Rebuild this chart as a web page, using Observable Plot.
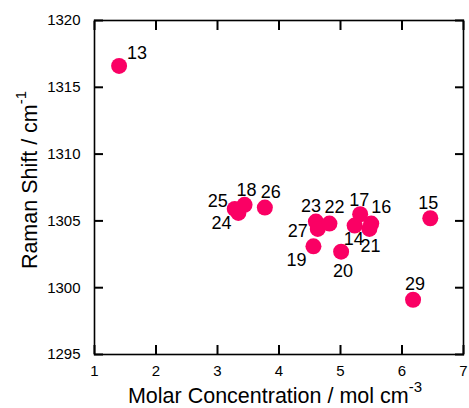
<!DOCTYPE html>
<html><head><meta charset="utf-8">
<script src="https://cdn.jsdelivr.net/npm/d3@7"></script>
<script src="https://cdn.jsdelivr.net/npm/@observablehq/plot@0.6"></script>
<style>
body{margin:0;background:#fff;}
svg{font-family:"Liberation Sans",Arial,sans-serif;}
</style></head><body>
<div id="chart"></div>
<script>
const ids   = ["13","25","24","18","26","23","27","22","19","20","14","17","16","21","15","29"];
const conc  = [1.40,3.28,3.34,3.44,3.77,4.60,4.63,4.82,4.56,5.01,5.23,5.32,5.50,5.47,6.46,6.18];
const shift = [1316.6,1305.9,1305.6,1306.2,1306.0,1304.95,1304.4,1304.8,1303.1,1302.7,1304.65,1305.5,1304.8,1304.4,1305.2,1299.1];
const labelDx = [18,-17,-17,2,6,-5,-20,5,-17,2,-1,-1,10,1,-2,2];
const labelDy = [-13,-8,10,-15,-15,-15,2,-16,14,20,14,-14,-16,17,-15,-15];
const xTicks = [1,2,3,4,5,6,7];
const yTicks = [1295,1300,1305,1310,1315,1320];
const data = ids.map((id,i)=>({id, x:conc[i], y:shift[i], dx:labelDx[i], dy:labelDy[i]}));
const color = "#fa0064";

const W = 469, H = 408, mL = 94, mR = 6, mT = 20, mB = 54;
const T = 9;
const fmt = d3.format("d");
const blank = () => "";
const plot = Plot.plot({
  width: W, height: H,
  marginLeft: mL, marginRight: mR, marginTop: mT, marginBottom: mB,
  style: {fontSize: "14px", fontFamily: "Liberation Sans, Arial, sans-serif", color: "#000"},
  x: {domain: [1,7]},
  y: {domain: [1295,1320]},
  marks: [
    Plot.axisX({ticks: xTicks, tickSize: T, dy: -T, tickFormat: blank, label: null, stroke: "#000", strokeWidth: 2}),
    Plot.axisX({anchor: "top", ticks: xTicks, tickSize: T, dy: T, tickFormat: blank, label: null, stroke: "#000", strokeWidth: 2}),
    Plot.axisY({ticks: yTicks, tickSize: T, dx: T, tickFormat: blank, label: null, stroke: "#000", strokeWidth: 2}),
    Plot.axisY({anchor: "right", ticks: yTicks, tickSize: T, dx: -T, tickFormat: blank, label: null, stroke: "#000", strokeWidth: 2}),
    Plot.axisX({ticks: xTicks, tickSize: 0, tickPadding: 11, fontSize: 15, tickFormat: fmt, label: null}),
    Plot.axisY({ticks: yTicks, tickSize: 0, tickPadding: 14, fontSize: 15, tickFormat: fmt, label: null}),
    Plot.frame({stroke: "#000", strokeWidth: 1.6}),
    Plot.dot(data, {x: "x", y: "y", r: 8, fill: color, stroke: null}),
    ...data.map(d => Plot.text([d], {x: "x", y: "y", text: "id", dx: d.dx, dy: d.dy, fontSize: 18, fill: "#000"}))
  ]
});

const svg = d3.select(plot);
const xt = svg.append("text")
  .attr("x", 275).attr("y", 403)
  .attr("text-anchor", "middle")
  .attr("font-size", 21.5).attr("fill", "#000");
xt.append("tspan").text("Molar Concentration / mol cm");
xt.append("tspan").attr("dy", "-0.75em").attr("font-size", 15).text("-3");
const yt = svg.append("text")
  .attr("transform", "translate(37,180) rotate(-90)")
  .attr("text-anchor", "middle")
  .attr("font-size", 21.5).attr("fill", "#000");
yt.append("tspan").text("Raman Shift / cm");
yt.append("tspan").attr("dy", "-0.75em").attr("font-size", 15).text("-1");

document.getElementById("chart").appendChild(plot);
</script>
</body></html>
